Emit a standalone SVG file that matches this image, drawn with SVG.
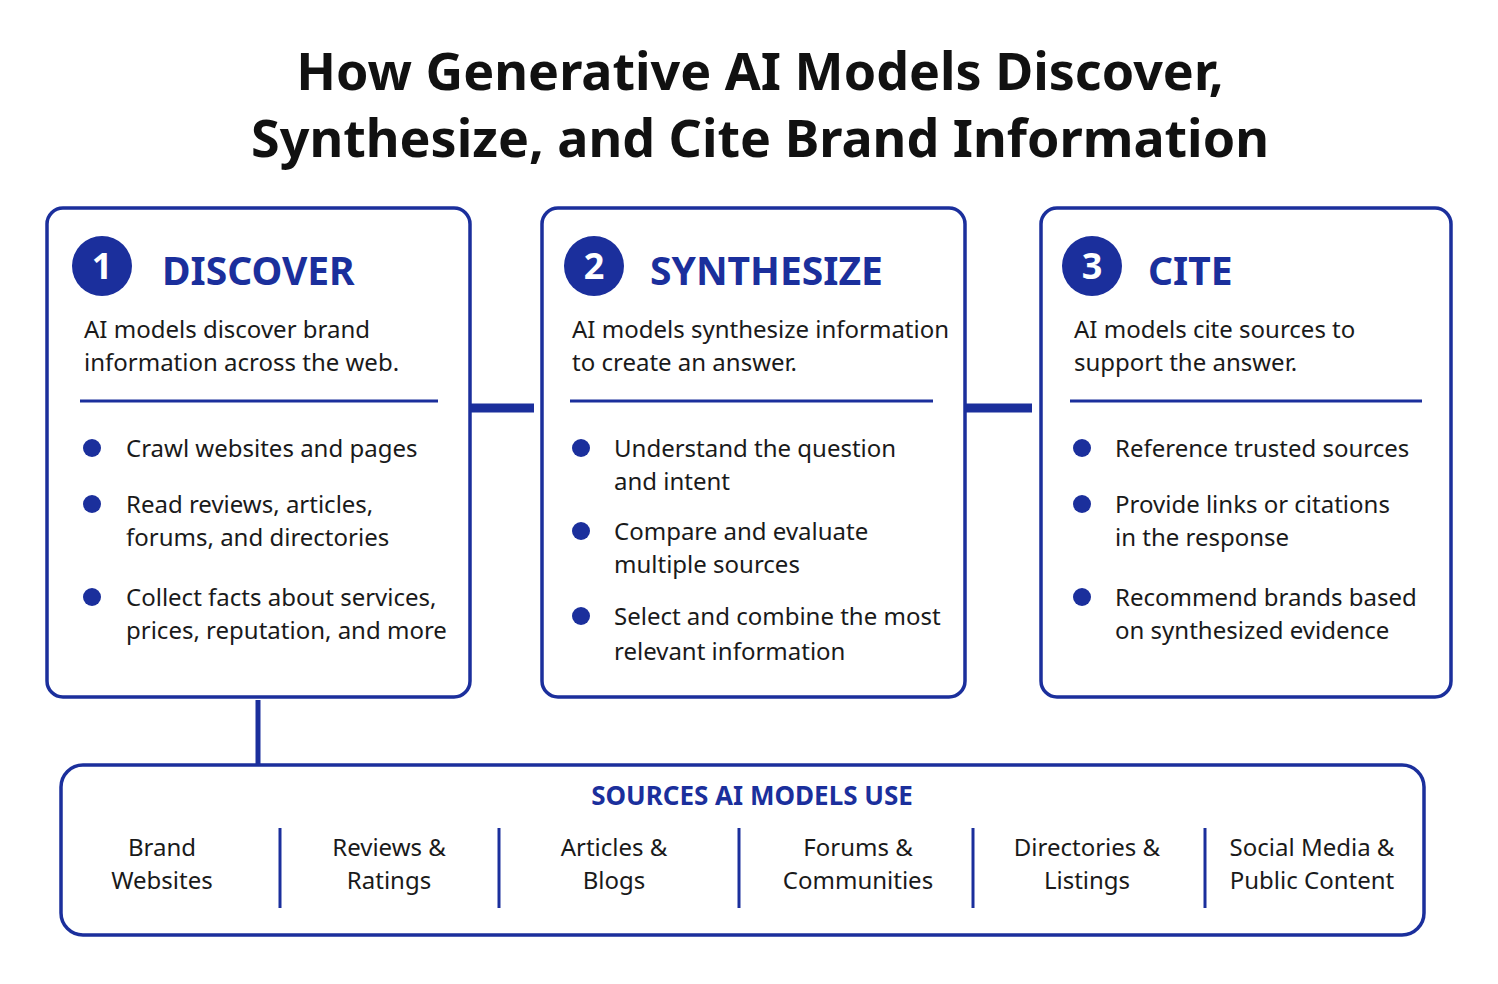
<svg xmlns="http://www.w3.org/2000/svg" width="1498" height="984" viewBox="0 0 1498 984">
<defs>
<style>
.box{fill:#fff;stroke:#1b2f9c;stroke-width:3.5}
.t{font-family:"Noto Sans","Open Sans",sans-serif;fill:#1a1a1a;font-size:24px}
.h{font-family:"Noto Sans",sans-serif;font-weight:bold;fill:#1b2f9c;font-size:39px}
.n{font-family:"Noto Sans",sans-serif;font-weight:bold;fill:#fff;font-size:36px;text-anchor:middle}
.c{fill:#1b2f9c}
.d{stroke:#1b2f9c;stroke-width:3}
.m{text-anchor:middle}
</style>
<marker id="ah" viewBox="0 0 10 10" refX="9" refY="5" markerWidth="4" markerHeight="4" markerUnits="userSpaceOnUse" orient="auto"><path d="M0,0L10,5L0,10z" fill="#1b2f9c"/></marker>
</defs>
<rect width="1498" height="984" fill="#fff"/>
<text x="760" y="90" font-family="Noto Sans,sans-serif" font-weight="bold" font-size="52" text-anchor="middle" fill="#111">How Generative AI Models Discover,</text>
<text x="760" y="157" font-family="Noto Sans,sans-serif" font-weight="bold" font-size="52" text-anchor="middle" fill="#111">Synthesize, and Cite Brand Information</text>

<g id="discover">
<rect class="box" x="47" y="208" width="423" height="489" rx="16"/>
<circle class="c" cx="102" cy="266" r="30"/><text class="n" x="102" y="279">1</text>
<text class="h" x="162" y="285">DISCOVER</text>
<text class="t" x="84" y="338">AI models discover brand</text>
<text class="t" x="84" y="371">information across the web.</text>
<line class="d" x1="80" y1="401" x2="438" y2="401"/>
<circle class="c" cx="92" cy="448" r="9"/><text class="t" x="126" y="457">Crawl websites and pages</text>
<circle class="c" cx="92" cy="504" r="9"/><text class="t" x="126" y="513">Read reviews, articles,</text><text class="t" x="126" y="546">forums, and directories</text>
<circle class="c" cx="92" cy="597" r="9"/><text class="t" x="126" y="606">Collect facts about services,</text><text class="t" x="126" y="639">prices, reputation, and more</text>
</g>

<g id="synthesize">
<rect class="box" x="542" y="208" width="423" height="489" rx="16"/>
<circle class="c" cx="594" cy="266" r="30"/><text class="n" x="594" y="279">2</text>
<text class="h" x="650" y="285">SYNTHESIZE</text>
<text class="t" x="572" y="338">AI models synthesize information</text>
<text class="t" x="572" y="371">to create an answer.</text>
<line class="d" x1="570" y1="401" x2="933" y2="401"/>
<circle class="c" cx="581" cy="448" r="9"/><text class="t" x="614" y="457">Understand the question</text><text class="t" x="614" y="490">and intent</text>
<circle class="c" cx="581" cy="531" r="9"/><text class="t" x="614" y="540">Compare and evaluate</text><text class="t" x="614" y="573">multiple sources</text>
<circle class="c" cx="581" cy="616" r="9"/><text class="t" x="614" y="625">Select and combine the most</text><text class="t" x="614" y="660">relevant information</text>
</g>

<g id="cite">
<rect class="box" x="1041" y="208" width="410" height="489" rx="16"/>
<circle class="c" cx="1092" cy="266" r="30"/><text class="n" x="1092" y="279">3</text>
<text class="h" x="1148" y="285">CITE</text>
<text class="t" x="1074" y="338">AI models cite sources to</text>
<text class="t" x="1074" y="371">support the answer.</text>
<line class="d" x1="1070" y1="401" x2="1422" y2="401"/>
<circle class="c" cx="1082" cy="448" r="9"/><text class="t" x="1115" y="457">Reference trusted sources</text>
<circle class="c" cx="1082" cy="504" r="9"/><text class="t" x="1115" y="513">Provide links or citations</text><text class="t" x="1115" y="546">in the response</text>
<circle class="c" cx="1082" cy="597" r="9"/><text class="t" x="1115" y="606">Recommend brands based</text><text class="t" x="1115" y="639">on synthesized evidence</text>
</g>

<g id="sources">
<rect class="box" x="61" y="765" width="1363" height="170" rx="22"/>
<text x="752" y="805" class="m" font-family="Noto Sans,sans-serif" font-weight="bold" font-size="26" fill="#1b2f9c">SOURCES AI MODELS USE</text>
<g class="d"><line x1="280" y1="828" x2="280" y2="908"/><line x1="499" y1="828" x2="499" y2="908"/><line x1="739" y1="828" x2="739" y2="908"/><line x1="973" y1="828" x2="973" y2="908"/><line x1="1205" y1="828" x2="1205" y2="908"/></g>
<text class="t m" x="162" y="856">Brand</text><text class="t m" x="162" y="889">Websites</text>
<text class="t m" x="389" y="856">Reviews &amp;</text><text class="t m" x="389" y="889">Ratings</text>
<text class="t m" x="614" y="856">Articles &amp;</text><text class="t m" x="614" y="889">Blogs</text>
<text class="t m" x="858" y="856">Forums &amp;</text><text class="t m" x="858" y="889">Communities</text>
<text class="t m" x="1087" y="856">Directories &amp;</text><text class="t m" x="1087" y="889">Listings</text>
<text class="t m" x="1312" y="856">Social Media &amp;</text><text class="t m" x="1312" y="889">Public Content</text>
</g>

<g id="connectors" stroke="#1b2f9c" fill="none">
<line x1="470" y1="408" x2="534" y2="408" stroke-width="9" marker-end="url(#ah)"/>
<line x1="965" y1="408" x2="1032" y2="408" stroke-width="9" marker-end="url(#ah)"/>
<line x1="258" y1="764" x2="258" y2="700" stroke-width="5" marker-end="url(#ah)"/>
</g>
</svg>
